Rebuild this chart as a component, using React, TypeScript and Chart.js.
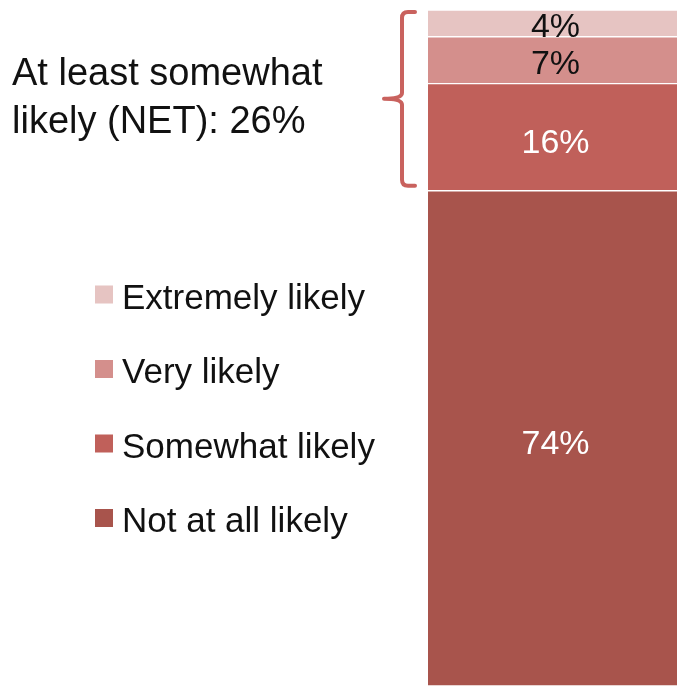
import React, { useEffect, useRef } from "react";
import { Chart, registerables } from "chart.js";

Chart.register(...registerables);

const categories = [""];
const seriesLabels = ["Not at all likely", "Somewhat likely", "Very likely", "Extremely likely"];
const notAtAllLikely = [74];
const somewhatLikely = [16];
const veryLikely = [7];
const extremelyLikely = [4];
const netTitleLines = ["At least somewhat", "likely (NET): 26%"];

const seriesColors = ["#A8544C", "#C0605A", "#D48F8C", "#E6C4C2"];
const labelColors = ["#ffffff", "#ffffff", "#111111", "#111111"];
const bracketColor = "#C9625E";
const FONT = "'Liberation Sans', Arial, Helvetica, sans-serif";

const overlayPlugin = {
  id: "overlay",
  afterDatasetsDraw(chart: any) {
    const ctx = chart.ctx;
    ctx.save();
    ctx.font = `34px ${FONT}`;
    ctx.textAlign = "center";
    ctx.textBaseline = "middle";
    chart.data.datasets.forEach((ds: any, i: number) => {
      const meta = chart.getDatasetMeta(i);
      meta.data.forEach((el: any, j: number) => {
        const v = ds.data[j];
        const shift = i >= 2 ? 4 : 6;
        const cy = (el.y + el.base) / 2 + shift;
        ctx.fillStyle = labelColors[i];
        ctx.fillText(`${v}%`, el.x + 3, cy);
      });
    });
    ctx.restore();
  },
  afterDraw(chart: any) {
    const ctx = chart.ctx;
    const yScale = chart.scales.y;
    ctx.save();
    // Legend (reversed order)
    ctx.font = `35px ${FONT}`;
    ctx.textAlign = "left";
    ctx.textBaseline = "middle";
    const n = chart.data.datasets.length;
    for (let k = 0; k < n; k++) {
      const i = n - 1 - k;
      const ds = chart.data.datasets[i];
      const cy = 294 + k * 74.5;
      ctx.fillStyle = ds.backgroundColor;
      ctx.fillRect(95, cy - 8.5, 18, 18);
      ctx.fillStyle = "#111111";
      ctx.fillText(ds.label, 122, cy + 5);
    }
    // Title
    ctx.font = `38px ${FONT}`;
    ctx.textBaseline = "alphabetic";
    ctx.fillStyle = "#111111";
    ctx.fillText(netTitleLines[0], 12, 85);
    ctx.fillText(netTitleLines[1], 12, 133);
    // Bracket
    const total = notAtAllLikely[0] + somewhatLikely[0] + veryLikely[0] + extremelyLikely[0];
    const top = yScale.getPixelForValue(total) + 2;
    const bottom = yScale.getPixelForValue(notAtAllLikely[0]) - 5;
    const mid = (top + bottom) / 2;
    const xv = 402;
    ctx.strokeStyle = bracketColor;
    ctx.lineWidth = 4;
    ctx.lineCap = "round";
    ctx.lineJoin = "round";
    ctx.beginPath();
    ctx.moveTo(415, top);
    ctx.lineTo(xv + 6, top);
    ctx.quadraticCurveTo(xv, top, xv, top + 6);
    ctx.lineTo(xv, mid - 6);
    ctx.quadraticCurveTo(xv, mid, 384, mid);
    ctx.quadraticCurveTo(xv, mid, xv, mid + 6);
    ctx.lineTo(xv, bottom - 6);
    ctx.quadraticCurveTo(xv, bottom, xv + 6, bottom);
    ctx.lineTo(415, bottom);
    ctx.stroke();
    ctx.restore();
  },
};

export default function App() {
  const ref = useRef<HTMLCanvasElement>(null);
  useEffect(() => {
    if (!ref.current) return;
    const seriesData = [notAtAllLikely, somewhatLikely, veryLikely, extremelyLikely];
    const chart = new Chart(ref.current, {
      type: "bar",
      data: {
        labels: categories,
        datasets: seriesData.map((d, i) => ({
          label: seriesLabels[i],
          data: d,
          backgroundColor: seriesColors[i],
          borderColor: "#ffffff",
          borderWidth: { top: 1, bottom: 1, left: 0, right: 0 },
          borderSkipped: false,
          barPercentage: 1,
          categoryPercentage: 1,
        })),
      },
      options: {
        animation: false,
        responsive: true,
        maintainAspectRatio: false,
        layout: { padding: { left: 428, top: 10, right: 0, bottom: 0 } },
        scales: {
          x: { stacked: true, display: false },
          y: { stacked: true, display: false, min: 0, max: 101 },
        },
        plugins: { legend: { display: false }, tooltip: { enabled: false } },
      },
      plugins: [overlayPlugin],
    });
    return () => chart.destroy();
  }, []);
  return (
    <div style={{ position: "absolute", left: 0, top: 0, width: 677, height: 686, background: "#fff" }}>
      <canvas ref={ref} />
    </div>
  );
}
